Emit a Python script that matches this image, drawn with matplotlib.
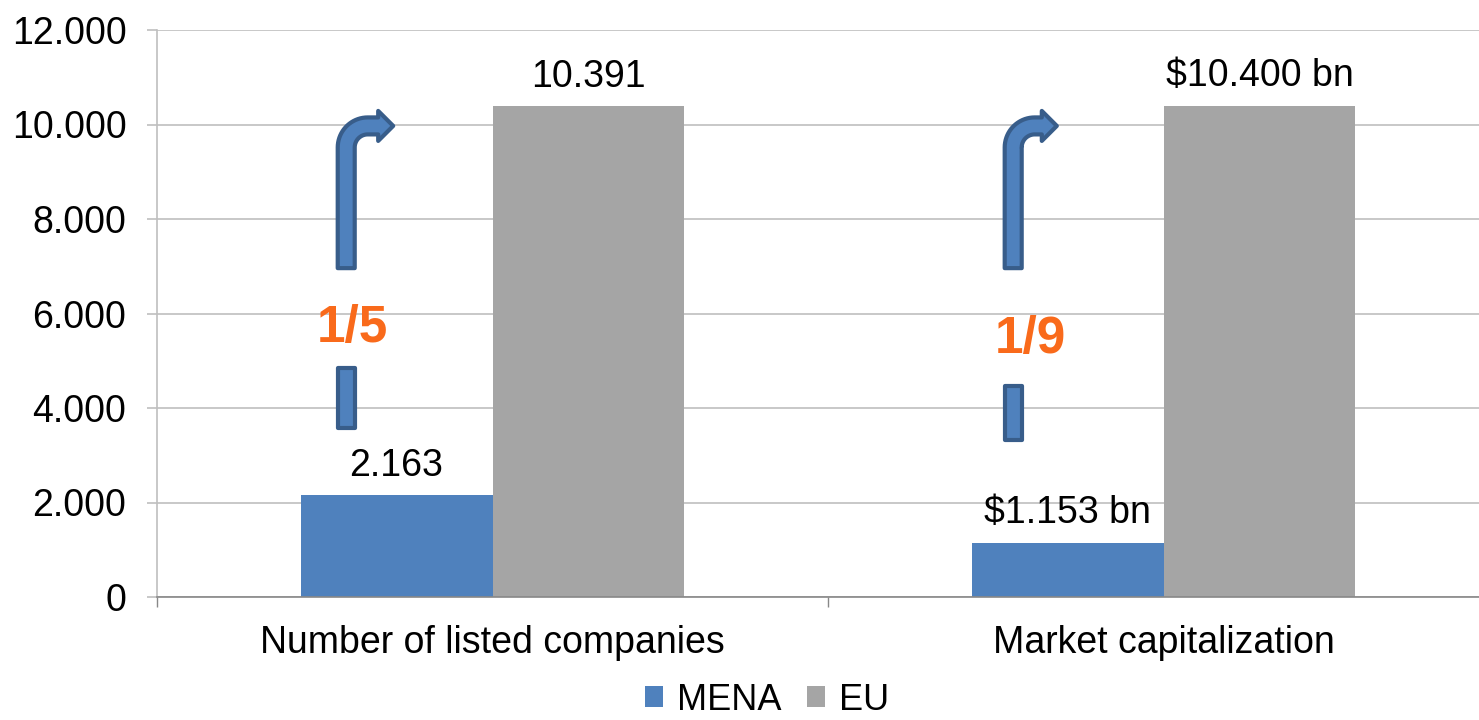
import numpy as np
import matplotlib
matplotlib.use("Agg")
import matplotlib.pyplot as plt
from matplotlib.path import Path
from matplotlib.patches import PathPatch, Patch

plt.rcParams['font.family'] = ['Liberation Sans', 'DejaVu Sans']

categories = ["Number of listed companies", "Market capitalization"]
series_names = ["MENA", "EU"]
mena_values = [2163, 1153]
eu_values = [10391, 10400]
mena_labels = ["2.163", "$1.153 bn"]
eu_labels = ["10.391", "$10.400 bn"]
ratio_labels = ["1/5", "1/9"]
yticks = [0, 2000, 4000, 6000, 8000, 10000, 12000]
ytick_labels = ["0", "2.000", "4.000", "6.000", "8.000", "10.000", "12.000"]

MENA_C = "#4F81BD"
EU_C = "#A5A5A5"
EDGE_C = "#385D8A"
ORANGE = "#F96A1B"
FS = 27

W, H = 1479, 720
fig = plt.figure(figsize=(W / 100, H / 100), dpi=100)
ax = fig.add_axes([157 / W, (720 - 597) / H, (1499 - 157) / W, (597 - 30) / H])

x = np.arange(len(categories))
bw = 0.286
ax.bar(x - bw / 2, mena_values, bw, color=MENA_C, zorder=2)
ax.bar(x + bw / 2, eu_values, bw, color=EU_C, zorder=2)

ax.set_xlim(-0.5, 1.5)
ax.set_ylim(0, 12000)
ax.set_yticks(yticks)
ax.set_yticklabels(ytick_labels, fontsize=FS)
ax.set_xticks(x)
ax.set_xticklabels(categories, fontsize=FS)
ax.tick_params(axis='x', length=0, pad=20)
ax.set_xticks([-0.5, 0.5, 1.5], minor=True)
ax.tick_params(axis='x', which='minor', length=7, color='#888888', width=1)
ax.tick_params(axis='y', length=7, color='#BFBFBF', width=1.2, pad=15)
ax.grid(axis='y', color='#BFBFBF', linewidth=1.2, zorder=0)
for s in ['top', 'right']:
    ax.spines[s].set_visible(False)
ax.spines['left'].set_color('#BFBFBF')
ax.spines['left'].set_linewidth(1.2)
ax.spines['bottom'].set_color('#888888')
ax.spines['bottom'].set_linewidth(1.2)

for i in range(len(categories)):
    ax.annotate(mena_labels[i], (x[i] - bw / 2, mena_values[i]), xytext=(0, 8),
                textcoords='offset points', ha='center', va='bottom', fontsize=FS)
    ax.annotate(eu_labels[i], (x[i] + bw / 2, eu_values[i]), xytext=(0, 8),
                textcoords='offset points', ha='center', va='bottom', fontsize=FS)

# Arrow annotations (data coords for anchor points)
arrows = [
    dict(xs=-0.218, yb=6960, ya=9970, xt=-0.148, lo_top=4850, lo_bot=3580,
         tx=-0.209, ty=5690, label=ratio_labels[0]),
    dict(xs=0.776, yb=6960, ya=9970, xt=0.841, lo_top=4470, lo_bot=3320,
         tx=0.801, ty=5440, label=ratio_labels[1]),
]

inv = ax.transData.inverted()
h = 8.5      # half width px
Ro = 30.0    # outer radius px
Hh = 15.0    # head half-height px
head_len = 15.0

for a in arrows:
    xS, yB = ax.transData.transform((a['xs'], a['yb']))
    _, yA = ax.transData.transform((a['xs'], a['ya']))
    xT, _ = ax.transData.transform((a['xt'], a['ya']))
    cx, cy = xS - h + Ro, yA + h - Ro
    Ri = Ro - 2 * h
    th = np.linspace(np.pi, np.pi / 2, 20)
    outer = np.column_stack([cx + Ro * np.cos(th), cy + Ro * np.sin(th)])
    inner = np.column_stack([cx + Ri * np.cos(th[::-1]), cy + Ri * np.sin(th[::-1])])
    xHB = xT - head_len
    pts = [(xS - h, yB), (xS - h, cy)] + outer.tolist() + [
        (xHB, yA + h), (xHB, yA + Hh), (xT, yA), (xHB, yA - Hh), (xHB, yA - h),
        (cx, yA - h)] + inner.tolist() + [(xS + h, cy), (xS + h, yB), (xS - h, yB)]
    pts = inv.transform(np.array(pts))
    ax.add_patch(PathPatch(Path(pts, closed=True), facecolor=MENA_C, edgecolor=EDGE_C,
                           linewidth=3, joinstyle='round', zorder=4))
    _, yt = ax.transData.transform((a['xs'], a['lo_top']))
    _, yb2 = ax.transData.transform((a['xs'], a['lo_bot']))
    rect = np.array([(xS - h, yb2), (xS - h, yt), (xS + h, yt), (xS + h, yb2), (xS - h, yb2)])
    ax.add_patch(PathPatch(Path(inv.transform(rect), closed=True), facecolor=MENA_C,
                           edgecolor=EDGE_C, linewidth=3, joinstyle='round', zorder=4))
    ax.text(a['tx'], a['ty'], a['label'], color=ORANGE, fontsize=37, fontweight='bold',
            ha='center', va='center', zorder=5)

handles = [Patch(facecolor=MENA_C, label=series_names[0]),
           Patch(facecolor=EU_C, label=series_names[1])]
fig.legend(handles=handles, loc='center', bbox_to_anchor=(767 / W, 1 - 700 / H), ncol=2,
           frameon=False, fontsize=26, handlelength=0.5, handleheight=0.5,
           handletextpad=0.4, columnspacing=0.7, borderpad=0)

fig.savefig("out.png", dpi=100)
